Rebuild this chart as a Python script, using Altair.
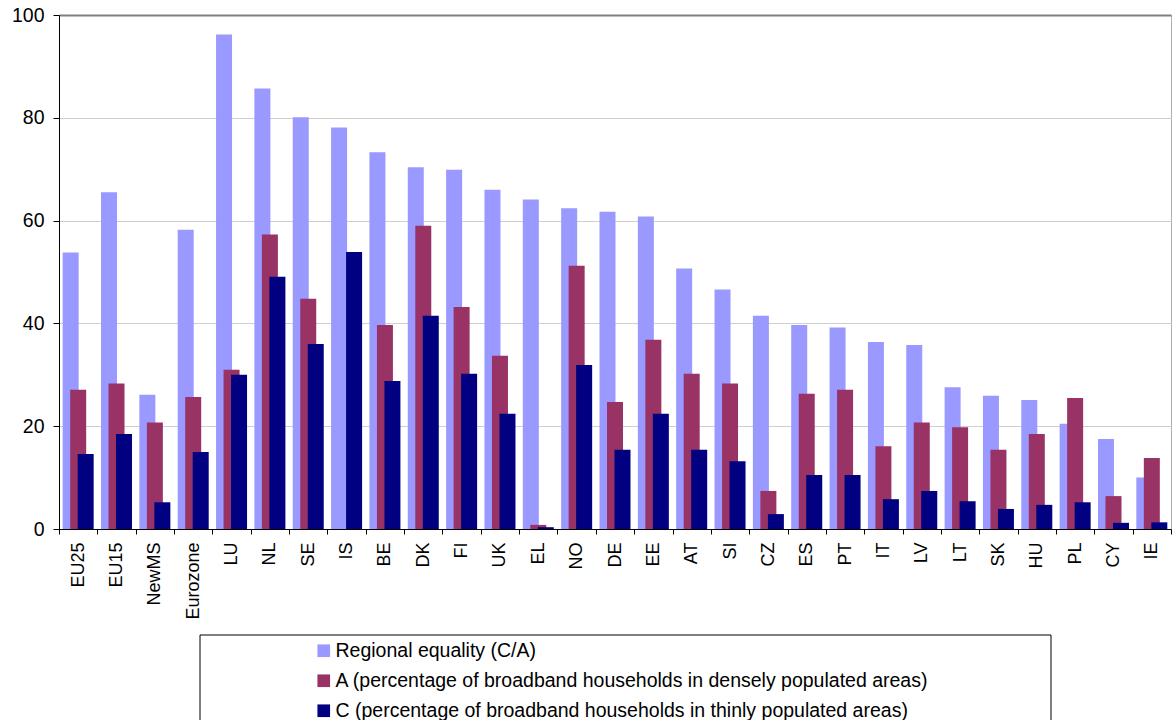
import altair as alt
import pandas as pd

# Countries / aggregates in display order
countries = ["EU25", "EU15", "NewMS", "Eurozone", "LU", "NL", "SE", "IS", "BE", "DK",
             "FI", "UK", "EL", "NO", "DE", "EE", "AT", "SI", "CZ", "ES",
             "PT", "IT", "LV", "LT", "SK", "HU", "PL", "CY", "IE"]

# Regional equality (C/A), in %
equality = [53.8, 65.5, 26.1, 58.2, 96.2, 85.7, 80.1, 78.1, 73.3, 70.4,
            69.9, 66.0, 64.1, 62.4, 61.7, 60.8, 50.7, 46.6, 41.5, 39.7,
            39.2, 36.4, 35.8, 27.6, 25.9, 25.1, 20.5, 17.5, 10.0]

# A: broadband households in densely populated areas, in %
dense = [27.1, 28.3, 20.7, 25.7, 31.0, 57.3, 44.8, None, 39.7, 59.0,
         43.2, 33.7, 0.8, 51.2, 24.7, 36.8, 30.2, 28.3, 7.4, 26.3,
         27.1, 16.1, 20.7, 19.8, 15.4, 18.5, 25.5, 6.4, 13.8]

# C: broadband households in thinly populated areas, in %
thin = [14.6, 18.5, 5.2, 15.0, 30.0, 49.1, 36.0, 53.9, 28.8, 41.5,
        30.2, 22.4, 0.35, 31.9, 15.4, 22.4, 15.4, 13.2, 2.9, 10.5,
        10.5, 5.8, 7.4, 5.4, 3.9, 4.7, 5.2, 1.2, 1.3]

series_names = [
    "Regional equality (C/A)",
    "A (percentage of broadband households in densely populated areas)",
    "C (percentage of broadband households in thinly populated areas)",
]
series_colors = ["#9999FF", "#993366", "#000080"]

rows = []
for name, values in zip(series_names, [equality, dense, thin]):
    for c, v in zip(countries, values):
        rows.append({"country": c, "series": name, "value": v})
df = pd.DataFrame(rows)

FONT = "Liberation Sans"

x_enc = alt.X(
    "country:N",
    sort=countries,
    title=None,
    scale=alt.Scale(paddingInner=0, paddingOuter=0),
    axis=alt.Axis(
        labelAngle=-90,
        labelFont=FONT,
        labelFontSize=18,
        labelColor="black",
        labelPadding=8,
        tickBand="extent",
        tickSize=5,
        tickColor="black",
        domainColor="black",
        grid=False,
    ),
)

y_enc = alt.Y(
    "value:Q",
    title=None,
    scale=alt.Scale(domain=[0, 100], nice=False),
    axis=alt.Axis(
        values=[0, 20, 40, 60, 80, 100],
        labelFont=FONT,
        labelFontSize=19.5,
        labelColor="black",
        labelPadding=9,
        tickSize=6,
        tickColor="black",
        domainColor="black",
        gridColor={"condition": {"test": "datum.value === 100", "value": "#808080"},
                   "value": "#cfcfcf"},
        gridWidth={"condition": {"test": "datum.value === 100", "value": 2},
                   "value": 1},
    ),
)

color_enc = alt.Color(
    "series:N",
    title=None,
    scale=alt.Scale(domain=series_names, range=series_colors),
    legend=alt.Legend(
        orient="none",
        legendX=255,
        legendY=626,
        direction="vertical",
        symbolType="square",
        symbolSize=160,
        symbolStrokeWidth=0,
        labelFont=FONT,
        labelFontSize=19.5,
        labelColor="black",
        labelOffset=2,
        labelLimit=2000,
        rowPadding=9,
        padding=0,
    ),
)

# Three overlapping bars per category, shifted within each band
offsets = [-7.5, 0, 7.5]
layers = []
for name, off in zip(series_names, offsets):
    layers.append(
        alt.Chart(df)
        .transform_filter(alt.datum.series == name)
        .mark_bar(width=16, xOffset=off)
        .encode(x=x_enc, y=y_enc, color=color_enc)
    )

# Frame around the legend
frame = (
    alt.Chart(pd.DataFrame({"k": [0]}))
    .mark_rect(fill="white", stroke="black", strokeWidth=1)
    .encode(
        x=alt.value(141),
        x2=alt.value(992),
        y=alt.value(620),
        y2=alt.value(730),
    )
)

chart = (
    alt.layer(frame, *layers)
    .properties(
        width=1112,
        height=514,
        autosize=alt.AutoSizeParams(type="none"),
        padding={"left": 59, "top": 15, "right": 1, "bottom": 191},
        background="white",
    )
    .configure_view(stroke="#b0b0b0", strokeWidth=1)
)

chart.save("out.html", embed_options={"renderer": "svg", "actions": False})
